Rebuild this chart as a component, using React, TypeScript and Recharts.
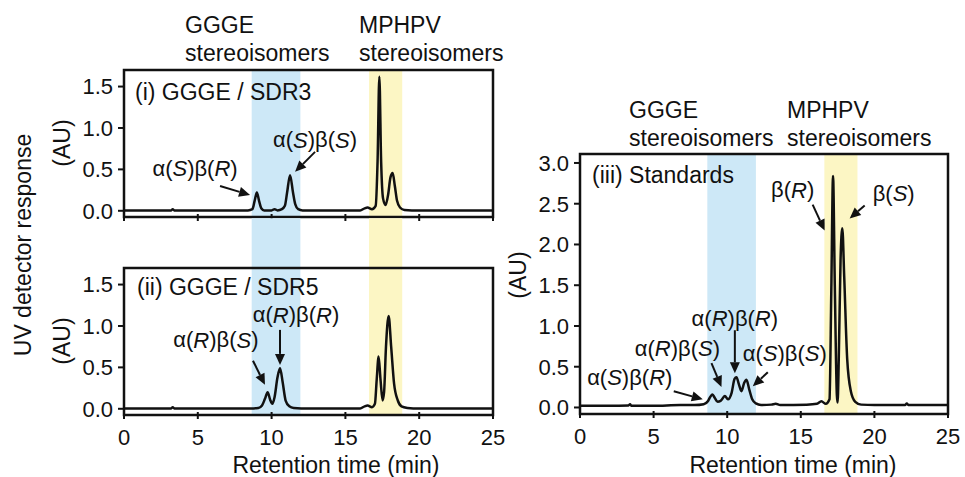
import React from "react";
import { LineChart, Line, XAxis, YAxis, ReferenceArea, ReferenceDot, ReferenceLine } from "recharts";

type Pt = [number, number];
type Note = { alpha?: string; beta: string; t: number; au: number; tail: [number, number]; text: [number, number] };

const timeTicks = [0, 5, 10, 15, 20, 25];
const auTicksLeft = [0, 0.5, 1.0, 1.5];
const auTicksRight = [0, 0.5, 1.0, 1.5, 2.0, 2.5, 3.0];

// retention windows (min)
const ggeWindow = [8.65, 11.95];
const mphpvWindow = [16.6, 18.85];

// (time min, AU)
const sdr3Trace: Pt[] = [
  [0, 0.005], [1.5, 0.005], [3.2, 0.005], [3.3, 0.02], [3.4, 0.005], [6, 0.005], [8.4, 0.005],
  [8.7, 0.02], [8.85, 0.12], [9.0, 0.22], [9.15, 0.12], [9.3, 0.03], [9.5, 0.005], [10.0, 0.005],
  [10.2, 0.02], [10.4, 0.005], [10.7, 0.02], [10.9, 0.06], [11.05, 0.22], [11.25, 0.43], [11.45, 0.22],
  [11.6, 0.08], [11.8, 0.02], [12.1, 0.005], [16.0, 0.005], [16.3, 0.03], [16.5, 0.04], [16.8, 0.02],
  [17.05, 0.06], [17.18, 0.6], [17.3, 1.62], [17.42, 0.6], [17.55, 0.15], [17.72, 0.07], [17.9, 0.2],
  [18.05, 0.4], [18.2, 0.455], [18.35, 0.3], [18.5, 0.12], [18.7, 0.04], [19.0, 0.01], [19.5, 0.005],
  [25, 0.005],
];

const sdr5Trace: Pt[] = [
  [0, 0.005], [3.2, 0.005], [3.3, 0.02], [3.4, 0.005], [8.6, 0.005], [9.1, 0.01], [9.35, 0.04],
  [9.55, 0.12], [9.73, 0.2], [9.9, 0.11], [10.05, 0.06], [10.2, 0.14], [10.4, 0.38], [10.57, 0.49],
  [10.75, 0.32], [10.95, 0.1], [11.2, 0.03], [11.5, 0.01], [12, 0.005], [16.0, 0.005], [16.3, 0.03],
  [16.5, 0.04], [16.8, 0.02], [17.0, 0.06], [17.12, 0.35], [17.25, 0.63], [17.38, 0.35], [17.52, 0.1],
  [17.62, 0.2], [17.75, 0.75], [17.93, 1.12], [18.1, 0.75], [18.3, 0.3], [18.55, 0.1], [18.8, 0.03],
  [19.2, 0.01], [19.6, 0.005], [25, 0.005],
];

const standardsTrace: Pt[] = [
  [0, 0.02], [2, 0.02], [3.3, 0.025], [3.4, 0.04], [3.5, 0.02], [5, 0.02], [6.8, 0.03], [7.8, 0.03],
  [8.4, 0.04], [8.7, 0.08], [8.85, 0.13], [9.0, 0.16], [9.15, 0.12], [9.35, 0.07], [9.55, 0.08],
  [9.84, 0.14], [10.05, 0.1], [10.3, 0.18], [10.5, 0.35], [10.63, 0.37], [10.8, 0.28], [10.97, 0.2],
  [11.15, 0.3], [11.31, 0.34], [11.5, 0.22], [11.7, 0.1], [11.95, 0.05], [12.3, 0.03], [13.0, 0.035],
  [13.3, 0.045], [13.6, 0.03], [15.4, 0.035], [16.1, 0.045], [16.4, 0.075], [16.7, 0.045], [16.95, 0.1],
  [17.07, 1.4], [17.19, 2.84], [17.31, 1.5], [17.45, 0.15], [17.5, 0.06], [17.58, 0.6], [17.7, 1.8],
  [17.82, 2.2], [17.95, 1.6], [18.15, 0.6], [18.4, 0.2], [18.7, 0.07], [19.1, 0.035], [20, 0.03],
  [22.1, 0.03], [22.2, 0.05], [22.3, 0.03], [25, 0.03],
];

const sdr3Notes: Note[] = [
  { alpha: "S", beta: "R", t: 8.54, au: 0.19, tail: [-30, -9], text: [-55, -27] },
  { alpha: "S", beta: "S", t: 11.59, au: 0.47, tail: [20, -20], text: [20, -32] },
];
const sdr5Notes: Note[] = [
  { alpha: "R", beta: "S", t: 9.55, au: 0.29, tail: [-12, -24], text: [-49, -45] },
  { alpha: "R", beta: "R", t: 10.57, au: 0.53, tail: [0, -35], text: [16, -50] },
];
const standardsNotes: Note[] = [
  { alpha: "S", beta: "R", t: 8.34, au: 0.1, tail: [-29, -8], text: [-73, -22] },
  { alpha: "R", beta: "S", t: 9.61, au: 0.25, tail: [-10, -24], text: [-44, -39] },
  { alpha: "R", beta: "R", t: 10.52, au: 0.42, tail: [0, -43], text: [0, -55] },
  { alpha: "S", beta: "S", t: 11.74, au: 0.26, tail: [15, -14], text: [32, -33] },
  { beta: "R", t: 16.62, au: 2.17, tail: [-12, -26], text: [-32, -41] },
  { beta: "S", t: 18.32, au: 2.32, tail: [15, -13], text: [44, -25] },
];

const FONT = "'Liberation Sans', Arial, sans-serif";
const INK = "#111";
const BLUE = "#cde8f7";
const YELLOW = "#fcf6c4";

function Arrow({ cx, cy, note }: { cx: number; cy: number; note: Note }) {
  const [tx, ty] = note.tail;
  const len = Math.hypot(tx, ty);
  const ux = -tx / len;
  const uy = -ty / len;
  const head = 11;
  const half = 5;
  const bx = cx - ux * head;
  const by = cy - uy * head;
  const px = -uy;
  const py = ux;
  return (
    <g>
      <line x1={cx + tx} y1={cy + ty} x2={bx} y2={by} stroke={INK} strokeWidth={2} />
      <polygon
        points={`${cx},${cy} ${bx + px * half},${by + py * half} ${bx - px * half},${by - py * half}`}
        fill={INK}
      />
      <text
        x={cx + note.text[0]}
        y={cy + note.text[1]}
        textAnchor="middle"
        dominantBaseline="central"
        fontFamily={FONT}
        fontSize={22}
        fill={INK}
      >
        {note.alpha && (
          <>
            α(<tspan fontStyle="italic">{note.alpha}</tspan>)
          </>
        )}
        β(<tspan fontStyle="italic">{note.beta}</tspan>)
      </text>
    </g>
  );
}

function TimeTick({ x, y, payload, show }: any) {
  if (!show) return <g />;
  return (
    <text x={x} y={y} dy="0.71em" textAnchor="middle" fontFamily={FONT} fontSize={22} fill={INK}>
      {payload.value}
    </text>
  );
}

function AuTick({ x, y, payload }: any) {
  return (
    <text x={x} y={y} dy="0.355em" textAnchor="end" fontFamily={FONT} fontSize={22} fill={INK}>
      {Number(payload.value).toFixed(1)}
    </text>
  );
}

type PanelProps = {
  trace: Pt[];
  notes: Note[];
  left: number;
  top: number;
  width: number;
  height: number;
  domain: [number, number];
  ticks: number[];
  xLabels: boolean;
  bandUp?: number;
  extraTop?: number;
};

function Panel({ trace, notes, left, top, width, height, domain, ticks, xLabels, bandUp = 0, extraTop = 0 }: PanelProps) {
  const data = trace.map(([t, au]) => ({ t, au }));
  const mTop = 10 + extraTop;
  const minPerPx = 25 / width;
  const auPerPx = (domain[1] - domain[0]) / height;
  const tickMark = { stroke: INK, strokeWidth: 2, ifOverflow: "visible" as const, xAxisId: "x", yAxisId: "y" };
  return (
    <div style={{ position: "absolute", left: left - 50, top: top - mTop }}>
      <LineChart
        width={50 + width + 12}
        height={mTop + height + 40}
        data={data}
        margin={{ top: mTop, right: 12, bottom: 0, left: 0 }}
      >
        <ReferenceArea xAxisId="x" yAxisId="y" x1={ggeWindow[0]} x2={ggeWindow[1]} y1={domain[0]} y2={domain[1] + bandUp}
          fill={BLUE} fillOpacity={1} stroke="none" ifOverflow="visible" />
        <ReferenceArea xAxisId="x" yAxisId="y" x1={mphpvWindow[0]} x2={mphpvWindow[1]} y1={domain[0]} y2={domain[1] + bandUp}
          fill={YELLOW} fillOpacity={1} stroke="none" ifOverflow="visible" />
        <ReferenceArea xAxisId="x" yAxisId="y" x1={0} x2={25} y1={domain[0]} y2={domain[1]}
          fill="none" fillOpacity={0} stroke={INK} strokeWidth={2.5} strokeOpacity={1} ifOverflow="visible" />
        {ticks.map((v) => (
          <ReferenceLine key={`y${v}`} {...tickMark}
            segment={[{ x: -6 * minPerPx, y: v }, { x: 0, y: v }]} />
        ))}
        {timeTicks.map((t) => (
          <ReferenceLine key={`x${t}`} {...tickMark}
            segment={[{ x: t, y: domain[0] - 4 * auPerPx }, { x: t, y: domain[0] + 3 * auPerPx }]} />
        ))}
        <XAxis
          xAxisId="x"
          type="number"
          dataKey="t"
          domain={[0, 25]}
          ticks={timeTicks}
          height={40}
          axisLine={false}
          tickLine={false}
          tickSize={4}
          tickMargin={10}
          tick={(p: any) => <TimeTick {...p} show={xLabels} />}
          allowDataOverflow
        />
        <YAxis
          yAxisId="y"
          type="number"
          domain={domain}
          ticks={ticks}
          width={50}
          allowDataOverflow
          axisLine={false}
          tickLine={false}
          tickSize={6}
          tickMargin={5}
          tick={(p: any) => <AuTick {...p} />}
        />
        <Line
          xAxisId="x"
          yAxisId="y"
          type="monotone"
          dataKey="au"
          stroke={INK}
          strokeWidth={2.5}
          dot={false}
          isAnimationActive={false}
        />
        {notes.map((n, i) => (
          <ReferenceDot
            key={i}
            xAxisId="x"
            yAxisId="y"
            x={n.t}
            y={n.au}
            r={0}
            ifOverflow="visible"
            shape={(p: any) => <Arrow cx={p.cx} cy={p.cy} note={n} />}
          />
        ))}
      </LineChart>
    </div>
  );
}

function T({ x, y, children, anchor = "start", rotate = false, size = 23 }: any) {
  return (
    <text
      x={x}
      y={y}
      textAnchor={anchor}
      dominantBaseline="central"
      fontFamily={FONT}
      fontSize={size}
      fill={INK}
      transform={rotate ? `rotate(-90 ${x} ${y})` : undefined}
    >
      {children}
    </text>
  );
}

export default function App() {
  return (
    <div style={{ position: "absolute", left: 0, top: 0, width: 965, height: 477, background: "#fff", overflow: "hidden" }}>
      <Panel trace={sdr3Trace} notes={sdr3Notes} left={124} top={70} width={369} height={147}
        domain={[-0.075, 1.7]} ticks={auTicksLeft} xLabels={false} />
      <Panel trace={sdr5Trace} notes={sdr5Notes} left={124} top={268} width={369} height={147}
        domain={[-0.075, 1.7]} ticks={auTicksLeft} xLabels bandUp={0.6} extraTop={60} />
      <Panel trace={standardsTrace} notes={standardsNotes} left={580} top={154} width={368} height={260}
        domain={[-0.08, 3.11]} ticks={auTicksRight} xLabels />
      <svg width={965} height={477} style={{ position: "absolute", left: 0, top: 0, pointerEvents: "none" }}>
        <T x={185} y={25}>GGGE</T>
        <T x={185} y={53}>stereoisomers</T>
        <T x={359} y={25}>MPHPV</T>
        <T x={359} y={53}>stereoisomers</T>
        <T x={629} y={110}>GGGE</T>
        <T x={629} y={138}>stereoisomers</T>
        <T x={787} y={110}>MPHPV</T>
        <T x={787} y={138}>stereoisomers</T>
        <T x={135} y={92}>(i) GGGE / SDR3</T>
        <T x={137} y={287}>(ii) GGGE / SDR5</T>
        <T x={592} y={175}>(iii) Standards</T>
        <T x={336} y={465} anchor="middle">Retention time (min)</T>
        <T x={793} y={465} anchor="middle">Retention time (min)</T>
        <T x={23} y={245} anchor="middle" rotate>UV detector response</T>
        <T x={62} y={143} anchor="middle" rotate>(AU)</T>
        <T x={62} y={341} anchor="middle" rotate>(AU)</T>
        <T x={518} y={275} anchor="middle" rotate>(AU)</T>
      </svg>
    </div>
  );
}
